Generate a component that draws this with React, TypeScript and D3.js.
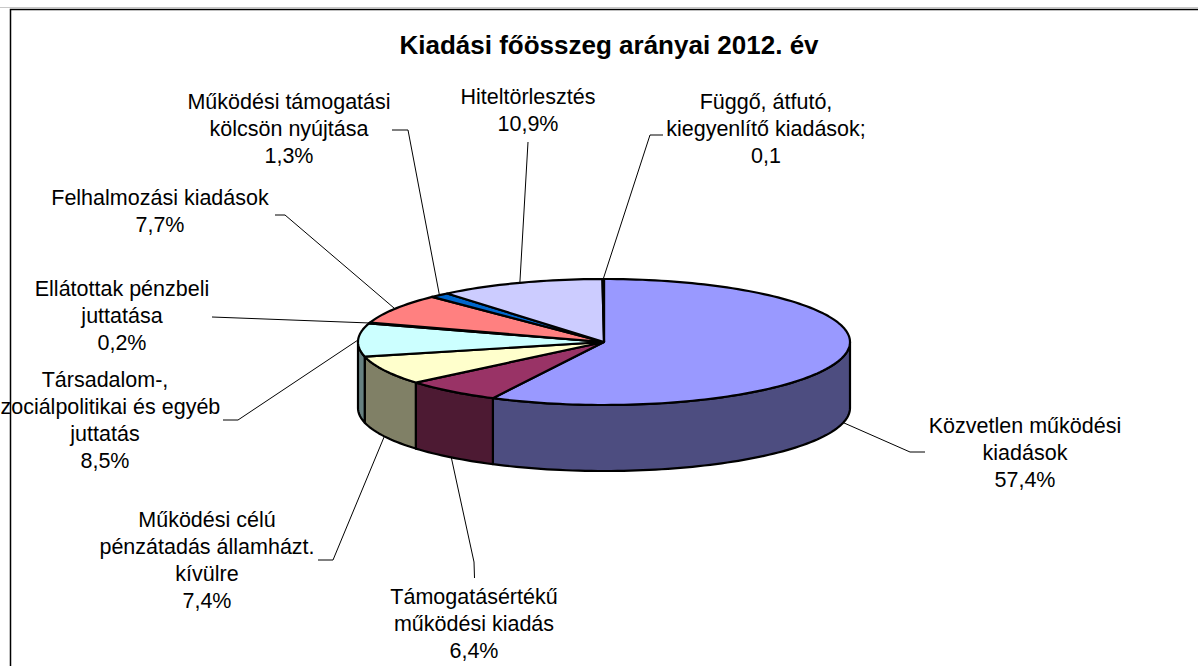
import * as React from "react";
import * as d3 from "d3";

// Kiadási főösszeg arányai 2012. év
const categories = [
  "Közvetlen működési kiadások",
  "Támogatásértékű működési kiadás",
  "Működési célú pénzátadás államházt. kívülre",
  "Társadalom-, szociálpolitikai és egyéb juttatás",
  "Ellátottak pénzbeli juttatása",
  "Felhalmozási kiadások",
  "Működési támogatási kölcsön nyújtása",
  "Hiteltörlesztés",
  "Függő, átfutó, kiegyenlítő kiadások",
];
const shares = [57.4, 6.4, 7.4, 8.5, 0.2, 7.7, 1.3, 10.9, 0.1];
const valueLabels = ["57,4%", "6,4%", "7,4%", "8,5%", "0,2%", "7,7%", "1,3%", "10,9%", "0,1"];
const labelLines = [
  ["Közvetlen működési", "kiadások"],
  ["Támogatásértékű", "működési kiadás"],
  ["Működési célú", "pénzátadás államházt.", "kívülre"],
  ["Társadalom-,", "szociálpolitikai és egyéb", "juttatás"],
  ["Ellátottak pénzbeli", "juttatása"],
  ["Felhalmozási kiadások"],
  ["Működési támogatási", "kölcsön nyújtása"],
  ["Hiteltörlesztés"],
  ["Függő, átfutó,", "kiegyenlítő kiadások;"],
];
const colors = ["#9999FF", "#993366", "#FFFFCC", "#CCFFFF", "#660066", "#FF8080", "#0066CC", "#CCCCFF", "#000080"];

// label layout: text centre x, first baseline y, leader elbow and end
const labelPos = [
  { x: 1025, y: 433, ex: 910, ey: 452, endX: 925 },
  { x: 474, y: 604, ex: 474, ey: 562, endX: 474.5, endY: 578 },
  { x: 207, y: 527, ex: 333, ey: 560, endX: 318 },
  { x: 105, y: 387, ex: 238, ey: 420, endX: 223 },
  { x: 122, y: 296, ex: 212, ey: 317, endX: 212 },
  { x: 160, y: 205, ex: 285, ey: 215, endX: 275 },
  { x: 289, y: 109, ex: 408, ey: 130, endX: 392 },
  { x: 528, y: 104, ex: 528, ey: 142, endX: 528 },
  { x: 766, y: 109, ex: 650, ey: 135, endX: 663 },
];

const W = 1198;
const H = 666;
const cx = 604;
const cy = 342;
const rx = 246;
const ry = 63;
const depth = 66;
const font = "'Liberation Sans', Arial, sans-serif";
const lineH = 27;

const px = (a: number) => cx + rx * Math.sin(a);
const py = (a: number) => cy - ry * Math.cos(a);

const arcPoints = (a0: number, a1: number, dy = 0): [number, number][] => {
  const n = Math.max(2, Math.ceil(((a1 - a0) / Math.PI) * 120));
  return d3.range(n + 1).map((i) => {
    const a = a0 + ((a1 - a0) * i) / n;
    return [px(a), py(a) + dy] as [number, number];
  });
};

const darker = (c: string) => {
  const rgb = d3.rgb(c);
  return d3.rgb(rgb.r * 0.5, rgb.g * 0.5, rgb.b * 0.5).formatHex();
};

const App: React.FC = () => {
  const arcs = d3
    .pie<number>()
    .sort(null)
    .value((d) => d)(shares);
  const line = d3.line();

  const walls = arcs
    .map((a, i) => {
      const a0 = Math.max(a.startAngle, Math.PI / 2);
      const a1 = Math.min(a.endAngle, (3 * Math.PI) / 2);
      if (a1 <= a0) return null;
      const top = arcPoints(a0, a1);
      const bottom = arcPoints(a0, a1, depth).reverse();
      return { i, d: line([...top, ...bottom])! + "Z" };
    })
    .filter((w) => w !== null) as { i: number; d: string }[];

  const tops = arcs.map((a, i) => ({
    i,
    d: line([[cx, cy], ...arcPoints(a.startAngle, a.endAngle)])! + "Z",
  }));

  const leaders = arcs.map((a, i) => {
    const mid = (a.startAngle + a.endAngle) / 2;
    const front = mid > Math.PI / 2 && mid < (3 * Math.PI) / 2;
    const sx = px(mid);
    const sy = py(mid) + (front ? depth : 0);
    const lp = labelPos[i];
    const pts: [number, number][] = [
      [sx, sy],
      [lp.ex, lp.ey],
      [lp.endX, lp.endY ?? lp.ey],
    ];
    return line(pts)!;
  });

  return (
    <svg
      width={W}
      height={H}
      style={{ position: "absolute", left: 0, top: 0, background: "#fff" }}
    >
      <line x1={0} x2={W} y1={7.5} y2={7.5} stroke="#c8c8c8" strokeWidth={1} />
      <path d={`M10.5,${H} V9.5 H${W}`} fill="none" stroke="#000" strokeWidth={1.5} />

      {walls.map((w) => (
        <path
          key={"w" + w.i}
          d={w.d}
          fill={darker(colors[w.i])}
          stroke="#000"
          strokeWidth={2.2}
          strokeLinejoin="round"
        />
      ))}
      {tops.map((t) => (
        <path
          key={"t" + t.i}
          d={t.d}
          fill={colors[t.i]}
          stroke="#000"
          strokeWidth={2.2}
          strokeLinejoin="round"
        />
      ))}

      {leaders.map((d, i) => (
        <path key={"l" + i} d={d} fill="none" stroke="#000" strokeWidth={1} />
      ))}

      {categories.map((c, i) => {
        const lp = labelPos[i];
        const lines = [...labelLines[i], valueLabels[i]];
        return (
          <text
            key={c}
            textAnchor="middle"
            fontFamily={font}
            fontSize={21.5}
            fill="#000"
          >
            {lines.map((l, j) => (
              <tspan key={j} x={lp.x} y={lp.y + j * lineH}>
                {l}
              </tspan>
            ))}
          </text>
        );
      })}

      <text
        x={609}
        y={54}
        textAnchor="middle"
        fontFamily={font}
        fontWeight="bold"
        fontSize={26}
        fill="#000"
      >
        Kiadási főösszeg arányai 2012. év
      </text>
    </svg>
  );
};

export default App;
